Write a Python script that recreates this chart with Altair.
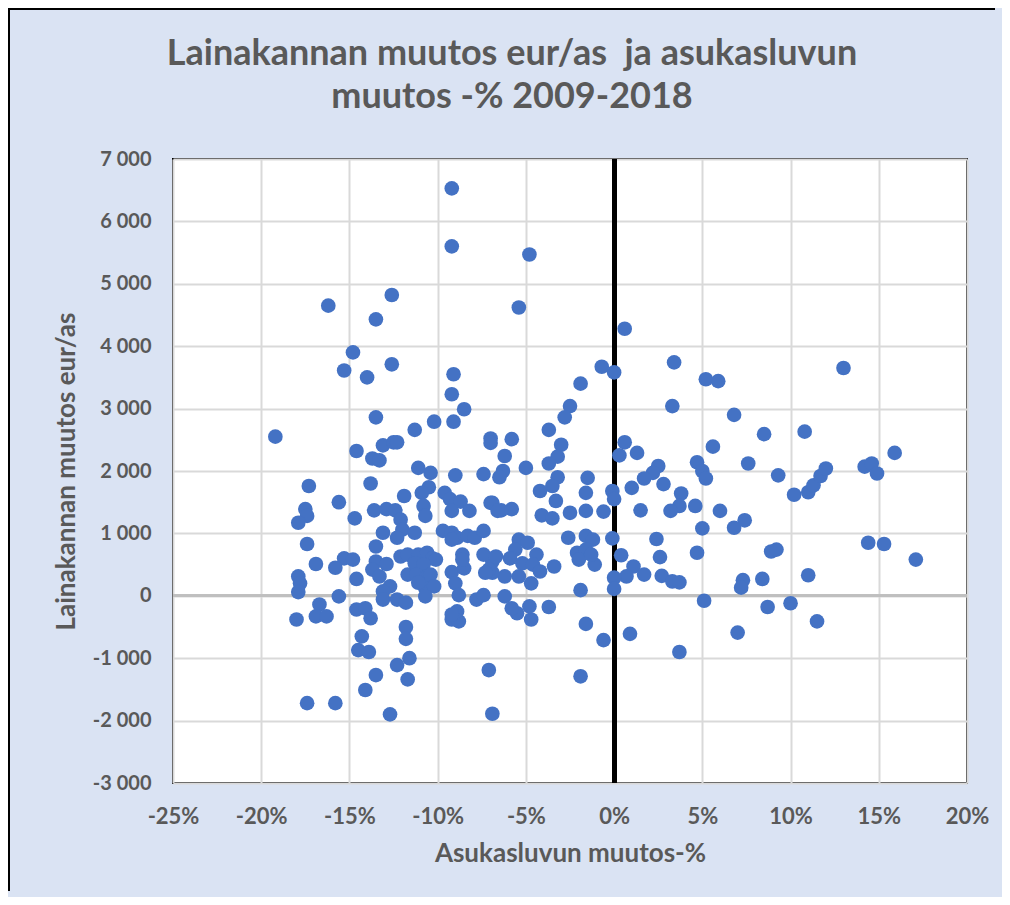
import altair as alt
import pandas as pd

# Asukasluvun muutos-% (x) and Lainakannan muutos eur/as (y)
pop_change = [
    -9.2, -9.2, -4.8, -5.4, -16.2, -12.6, -13.5, 0.6, -14.8, -15.3,
    -14.0, -12.6, -9.1, -9.2, -0.7, 0.0, 3.4, 13.0, 5.2, 5.9,
    -8.5, -10.2, -9.1, -13.5, -19.2, -11.3, -7.0, -7.0, -14.6, -13.1,
    -12.5, -12.3, -13.7, -13.3, -1.9, -2.5, -2.8, -3.7, -3.0, -3.2,
    -5.8, -6.2, 0.6, 0.3, 1.3, 3.3, 6.8, 5.6, -3.7, -5.0,
    -6.3, -6.5, -1.5, -1.6, -1.6, -3.2, -3.5, -3.3, -4.2, -2.5,
    -4.1, -3.5, -0.6, -5.8, -6.4, -6.9, 4.7, 5.0, 5.2, 2.5,
    2.2, 1.7, 1.0, 2.8, -0.1, 0.0, 3.8, 3.7, 3.2, 4.6,
    6.0, 6.8, 1.5, 5.0, 4.7, 2.4, 2.6, 0.4, -0.1, 1.1,
    1.7, 0.7, 0.0, 0.0, 2.7, 3.3, 3.7, 5.1, 0.9, -0.6,
    3.7, 7.0, -1.6, -1.9, -1.9, -3.7, -3.4, 8.5, 10.8, 7.6,
    9.3, 10.2, 11.0, 11.3, 11.7, 12.0, 14.2, 14.6, 14.9, 15.9,
    7.4, 8.9, 9.2, 14.4, 15.3, 17.1, 7.3, 7.2, 8.4, 11.0,
    10.0, 8.7, 11.5, -2.6, -2.1, -1.6, -1.2, -1.6, -1.1, -2.0,
    -1.3, -5.4, -4.9, -5.6, -4.4, -5.2, -4.6, -5.4, -4.7, -4.2,
    -5.9, -6.2, -6.9, -6.9, -6.2, -5.5, -4.7, -4.8, -5.8, -7.1,
    -6.9, -11.1, -10.4, -10.5, -10.9, -10.8, -10.7, -11.9, -9.0, -7.4,
    -9.6, -9.3, -8.7, -8.2, -9.2, -7.0, -6.6, -17.3, -15.6, -17.5,
    -17.4, -17.9, -14.7, -13.8, -13.6, -12.9, -12.4, -12.1, -12.0, -12.3,
    -13.1, -11.3, -9.7, -9.2, -8.9, -9.2, -8.3, -7.9, -7.4, -8.6,
    -17.4, -13.5, -16.9, -15.3, -14.8, -15.8, -13.5, -12.9, -13.7, -13.3,
    -12.7, -13.1, -13.1, -12.3, -11.8, -14.6, -17.9, -17.8, -17.9, -15.6,
    -12.1, -11.7, -11.1, -10.6, -10.3, -10.1, -11.3, -10.8, -11.7, -11.2,
    -10.6, -10.4, -10.7, -10.2, -11.1, -10.7, -9.2, -9.0, -8.5, -8.6,
    -8.8, -7.8, -7.4, -9.2, -8.8, -8.9, -9.2, -16.7, -16.9, -16.3,
    -18.0, -14.6, -14.1, -13.8, -11.8, -11.8, -11.6, -14.3, -14.5, -13.9,
    -12.3, -11.7, -13.5, -14.1, -17.4, -15.8, -12.7, -7.4, -7.1, -7.3,
    -6.7,
]
loan_change = [
    6530, 5600, 5470, 4620, 4650, 4820, 4430, 4280, 3900, 3610,
    3500, 3710, 3550, 3230, 3670, 3580, 3740, 3650, 3470, 3440,
    2990, 2790, 2790, 2860, 2550, 2660, 2520, 2450, 2320, 2410,
    2460, 2460, 2200, 2170, 3400, 3040, 2860, 2660, 2420, 2230,
    2510, 2240, 2460, 2250, 2290, 3040, 2900, 2390, 2120, 2050,
    2000, 1900, 1890, 1650, 1360, 1900, 1760, 1520, 1680, 1330,
    1290, 1240, 1350, 1390, 1370, 1490, 2140, 2000, 1880, 2080,
    1970, 1880, 1730, 1790, 1680, 1550, 1640, 1440, 1360, 1440,
    1360, 1090, 1370, 1080, 690, 910, 620, 650, 920, 470,
    340, 310, 290, 110, 320, 230, 215, -80, -610, -710,
    -900, -590, -450, 90, -1290, -180, 470, 2590, 2630, 2120,
    1930, 1620, 1660, 1770, 1920, 2040, 2070, 2120, 1960, 2290,
    1210, 710, 740, 850, 830, 580, 250, 130, 270, 330,
    -120, -180, -410, 930, 690, 960, 900, 740, 500, 580,
    660, 900, 850, 740, 660, 520, 500, 310, 200, 390,
    600, 310, 550, 370, -10, -280, -380, -170, -200, -1190,
    -1890, 2050, 1970, 1740, 1650, 1440, 1280, 1600, 1930, 1950,
    1650, 1550, 1510, 1360, 1360, 1490, 1360, 1760, 1500, 1390,
    1280, 1170, 1240, 1800, 1370, 1390, 1370, 1220, 1060, 930,
    1010, 1010, 1040, 1010, 930, 900, 960, 930, 1040, 660,
    830, 790, 510, 600, 580, 450, 550, 510, 420, 310,
    150, 70, -60, -60, -110, 270, 310, 200, 60, -10,
    630, 660, 660, 690, 600, 580, 520, 500, 340, 340,
    310, 340, 120, 150, 210, -10, 380, 200, 440, 580,
    10, -60, 10, -380, -410, -250, -300, -140, -330, -330,
    -380, -220, -200, -360, -500, -690, -1000, -650, -870, -900,
    -1110, -1340, -1270, -1510, -1720, -1720, -1900, 660, 420, 370,
    630,
]

x_ticks = [-25, -20, -15, -10, -5, 0, 5, 10, 15, 20]
y_ticks = [-3000, -2000, -1000, 0, 1000, 2000, 3000, 4000, 5000, 6000, 7000]

title_lines = ["Lainakannan muutos eur/as\u00a0 ja asukasluvun", "muutos -% 2009-2018"]
x_title = "Asukasluvun muutos-%"
y_title = "Lainakannan muutos eur/as"

df = pd.DataFrame({"x": pop_change, "y": loan_change})
one_df = pd.DataFrame({"k": [0]})

FONT = "Lato"
GRAY = "#595959"

x_scale = alt.Scale(domain=[-25, 20], nice=False, zero=False)
y_scale = alt.Scale(domain=[-3000, 7000], nice=False, zero=False)

x_axis = alt.Axis(
    values=x_ticks, title=x_title, grid=True, domain=False, ticks=False,
    labelExpr="(datum.value < 0 ? '-' : '') + abs(datum.value) + '%'",
    labelFlush=False, labelFontSize=22,
    labelPadding=23, titlePadding=13,
)
y_axis = alt.Axis(
    values=y_ticks, title=y_title, grid=True, domain=False, ticks=False,
    labelExpr="(datum.value < 0 ? '-' : '') + replace(format(abs(datum.value), ','), ',', ' ')",
    labelPadding=22, titlePadding=13,
)

base = alt.Chart(df)

hzero = base.mark_rule(color="#BFBFBF", strokeWidth=2).encode(
    y=alt.datum(0, scale=y_scale, axis=y_axis, type="quantitative")
)
vzero = base.mark_rule(color="black", strokeWidth=4).encode(
    x=alt.datum(0, scale=x_scale, axis=x_axis, type="quantitative")
)
points = base.mark_circle(size=215, color="#4472C4", opacity=1).encode(
    x=alt.X("x:Q", scale=x_scale, axis=x_axis),
    y=alt.Y("y:Q", scale=y_scale, axis=y_axis),
)

# outer frame: thin filled bars on the left and top edges of the chart box
frame_left = alt.Chart(one_df).mark_rect(color="black", strokeWidth=0).encode(
    x=alt.value(-165), x2=alt.value(-163), y=alt.value(-151), y2=alt.value(732)
)
frame_top = alt.Chart(one_df).mark_rect(color="black", strokeWidth=0).encode(
    x=alt.value(-165), x2=alt.value(822), y=alt.value(-151), y2=alt.value(-149)
)


def title_line(i, y_px):
    return alt.Chart(pd.DataFrame({"line": [title_lines[i]]})).mark_text(
        font=FONT, fontSize=36, fontWeight="bold", color=GRAY,
        align="center", baseline="alphabetic",
    ).encode(x=alt.value(339), y=alt.value(y_px), text="line:N")


chart = alt.layer(
    frame_left, frame_top, hzero, vzero, points, title_line(0, -94), title_line(1, -51)
).properties(
    width=794,
    height=624,
    background="#DAE3F3",
    autosize=alt.AutoSizeParams(type="none"),
    padding={"left": 165, "top": 151, "right": 35, "bottom": 114},
).configure_view(
    stroke="black", strokeWidth=2, fill="white"
).configure_axis(
    labelFont=FONT, labelFontSize=20, labelFontWeight="bold", labelColor=GRAY,
    titleFont=FONT, titleFontSize=26, titleFontWeight="bold", titleColor=GRAY,
    gridColor="#D9D9D9", gridWidth=2,
)

chart.save("out.html", embed_options={"renderer": "svg", "actions": False})
